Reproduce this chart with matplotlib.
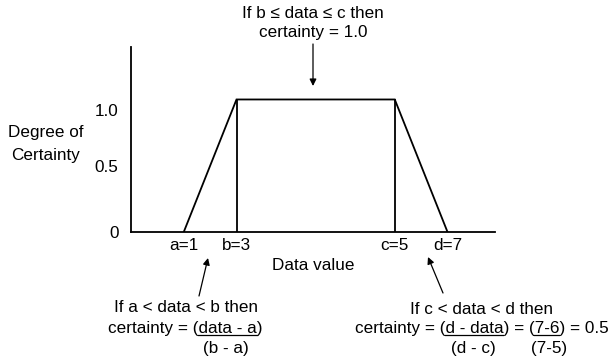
import matplotlib
matplotlib.use("Agg")
import matplotlib.pyplot as plt

plt.rcParams['font.family'] = ['Liberation Sans', 'DejaVu Sans']

# trapezoid (schematic positions along the axis)
shape_x = [1, 2, 5, 6]
shape_y = [0, 1, 1, 0]
tick_labels = ['a=1', 'b=3', 'c=5', 'd=7']
ytick_pos = [0, 0.5, 0.92]
ytick_labels = ['0', '0.5', '1.0']

W, H = 612, 364
FS = 12.3


def px(x, y):
    # picture pixels (top-left origin) -> figure fraction
    return x / W, 1 - y / H


fig = plt.figure(figsize=(W / 100, H / 100), dpi=100)
ax = fig.add_axes([131 / W, (H - 232) / H, (495 - 131) / W, (232 - 47) / H])

ax.plot(shape_x, shape_y, color='black', lw=1.3, solid_joinstyle='miter')
ax.vlines([shape_x[1], shape_x[2]], 0, 1, color='black', lw=1.3)
ax.set_xlim(0, 6.9)
ax.set_ylim(0, 1.396)
ax.set_xticks(shape_x)
ax.set_xticklabels(tick_labels, fontsize=FS)
ax.set_yticks(ytick_pos)
ax.set_yticklabels(ytick_labels, fontsize=FS)
ax.tick_params(axis='x', length=0, pad=4)
ax.tick_params(axis='y', length=0, pad=9)
for s in ['top', 'right']:
    ax.spines[s].set_visible(False)
for s in ['left', 'bottom']:
    ax.spines[s].set_linewidth(1.3)

fig.text(*px(46, 132), 'Degree of', ha='center', va='center', fontsize=FS)
fig.text(*px(46, 155), 'Certainty', ha='center', va='center', fontsize=FS)
fig.text(*px(313, 265), 'Data value', ha='center', va='center', fontsize=FS)

fig.text(*px(313, 13), 'If b \u2264 data \u2264 c then', ha='center', va='center', fontsize=FS)
fig.text(*px(313, 32), 'certainty = 1.0', ha='center', va='center', fontsize=FS)

fig.text(*px(185.5, 308), 'If a < data < b then', ha='center', va='center', fontsize=FS)
fig.text(*px(226, 348), '(b - a)', ha='center', va='center', fontsize=FS)

fig.text(*px(482, 309), 'If c < data < d then', ha='center', va='center', fontsize=FS)
fig.text(*px(473, 349), '(d - c)', ha='center', va='center', fontsize=FS)
fig.text(*px(549, 349), '(7-5)', ha='center', va='center', fontsize=FS)


def underlined(cx, cy, s, spans):
    # text centred at (cx, cy) with underline under the given substrings
    t = fig.text(*px(cx, cy), s, ha='center', va='center', fontsize=FS)
    fig.canvas.draw()
    r = fig.canvas.get_renderer()
    bb = t.get_window_extent(r)
    for a, b in spans:
        x0 = bb.x0 + r.get_text_width_height_descent(s[:a], t.get_fontproperties(), False)[0]
        x1 = bb.x0 + r.get_text_width_height_descent(s[:b], t.get_fontproperties(), False)[0]
        yy = bb.y0 + 1
        fig.add_artist(plt.Line2D([x0 / W, x1 / W], [yy / H, yy / H],
                                  color='black', lw=0.9, transform=fig.transFigure))


s1 = 'certainty = (data - a)'
underlined(185, 328, s1, [(13, 21)])
s2 = 'certainty = (d - data) = (7-6) = 0.5'
underlined(481.5, 328, s2, [(13, 21), (26, 29)])

arrows = [((313, 44), (313, 86)), ((199, 296), (208, 258)), ((443, 293), (428, 257))]
for tail, tip in arrows:
    ax.annotate('', xy=px(*tip), xytext=px(*tail), xycoords='figure fraction',
                textcoords='figure fraction',
                arrowprops=dict(arrowstyle='-|>', color='black', lw=0.9,
                                mutation_scale=10, shrinkA=0, shrinkB=0))

fig.savefig('out.png', dpi=100)
